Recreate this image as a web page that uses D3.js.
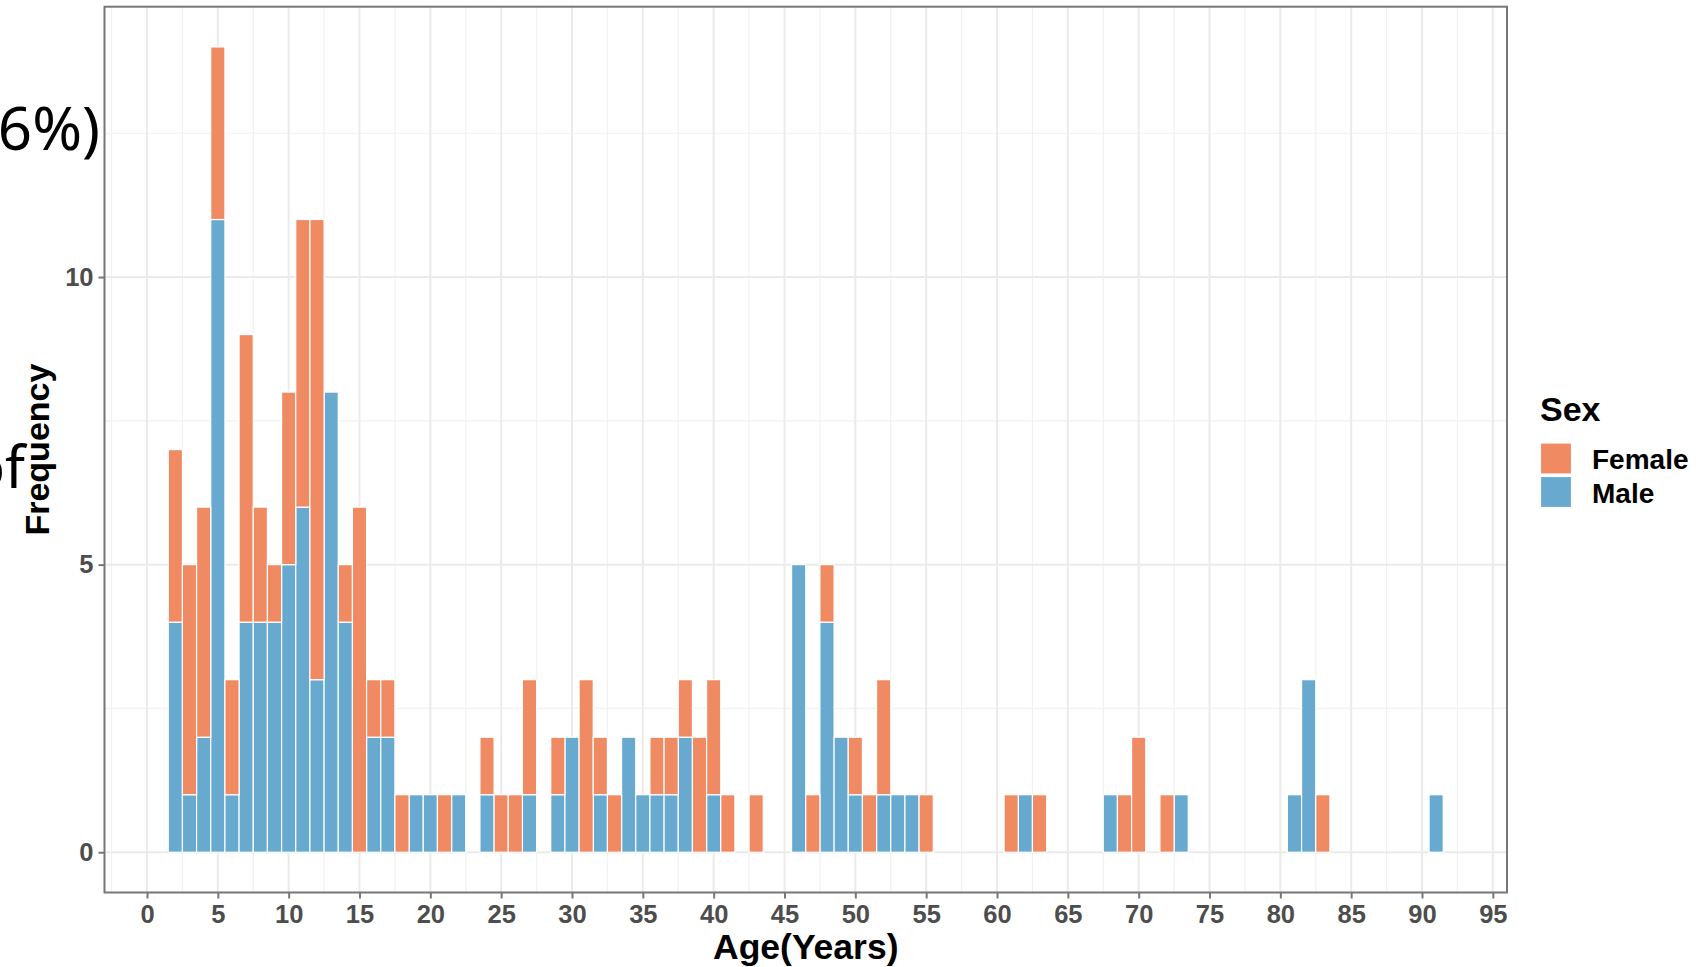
<!DOCTYPE html>
<html>
<head>
<meta charset="utf-8">
<script src="https://cdn.jsdelivr.net/npm/d3@7"></script>
<style>
  body { margin: 0; background: #fff; }
  svg { display: block; }
  .tick text { font-family: "Liberation Sans", Arial, sans-serif; font-weight: bold; fill: #4d4d4d; }
</style>
</head>
<body>
<svg id="chart" width="1700" height="967"></svg>
<script>
// ages with at least one case, and counts by sex
const ages   = [2,3,4,5,6,7,8,9,10,11,12,13,14,15,16,17,18,19,20,21,22,24,25,26,27,29,30,31,32,33,34,35,36,37,38,39,40,41,43,46,47,48,49,50,51,52,53,54,55,61,62,63,68,69,70,72,73,81,82,83,91];
const female = [3,4,4,3,2,5,2,1,3,5,8,0,1,6,1,1,1,0,0,1,0,1,1,1,2,1,0,3,1,1,0,0,1,1,1,2,2,1,1,0,1,1,0,1,1,2,0,0,1,1,0,1,0,1,2,1,0,0,0,1,0];
const male   = [4,1,2,11,1,4,4,4,5,6,3,8,4,0,2,2,0,1,1,0,1,1,0,0,1,1,2,0,1,0,2,1,1,1,2,0,1,0,0,5,0,4,2,1,0,1,1,1,0,0,1,0,1,0,0,0,1,1,3,0,1];

const sexes = ['Female', 'Male'];
const colors = ['#ef8a62', '#67a9cf'];
const xTicks = d3.range(0, 100, 5);
const yTicks = [0, 5, 10];

const svg = d3.select('#chart');

const panel = {left: 104.5, right: 1507, top: 6.7, bottom: 892.5};

const x = d3.scaleLinear().domain([-3, 96]).range([panel.left, panel.right]);
const y = d3.scaleLinear().domain([-0.7, 14.7]).range([panel.bottom, panel.top]);
const color = d3.scaleOrdinal().domain(sexes).range(colors);

const rows = ages.map((a, i) => ({age: a, Female: female[i], Male: male[i]}));
// male at the bottom, female stacked on top
const stacked = d3.stack().keys(['Male', 'Female'])(rows);

// grid lines
const grid = svg.append('g');
const xMinor = d3.range(-2.5, 96, 5);
const yMinor = [2.5, 7.5, 12.5];

grid.selectAll('.xminor').data(xMinor).enter().append('line')
  .attr('x1', d => x(d)).attr('x2', d => x(d))
  .attr('y1', panel.top).attr('y2', panel.bottom)
  .attr('stroke', '#f1f1f1').attr('stroke-width', 1.2);
grid.selectAll('.yminor').data(yMinor).enter().append('line')
  .attr('x1', panel.left).attr('x2', panel.right)
  .attr('y1', d => y(d)).attr('y2', d => y(d))
  .attr('stroke', '#f1f1f1').attr('stroke-width', 1.2);
grid.selectAll('.xmajor').data(xTicks).enter().append('line')
  .attr('x1', d => x(d)).attr('x2', d => x(d))
  .attr('y1', panel.top).attr('y2', panel.bottom)
  .attr('stroke', '#ebebeb').attr('stroke-width', 2);
grid.selectAll('.ymajor').data(yTicks).enter().append('line')
  .attr('x1', panel.left).attr('x2', panel.right)
  .attr('y1', d => y(d)).attr('y2', d => y(d))
  .attr('stroke', '#ebebeb').attr('stroke-width', 2);

// bars
const barW = x(1) - x(0);
svg.append('g').selectAll('g')
  .data(stacked)
  .enter().append('g')
  .attr('fill', d => color(d.key))
  .selectAll('rect')
  .data(d => d.filter(s => s[1] > s[0]))
  .enter().append('rect')
  .attr('x', d => x(d.data.age) - barW / 2)
  .attr('width', barW)
  .attr('y', d => y(d[1]))
  .attr('height', d => y(d[0]) - y(d[1]))
  .attr('stroke', 'white')
  .attr('stroke-width', 1.2);

// panel border
svg.append('rect')
  .attr('x', panel.left).attr('y', panel.top)
  .attr('width', panel.right - panel.left)
  .attr('height', panel.bottom - panel.top)
  .attr('fill', 'none')
  .attr('stroke', '#777')
  .attr('stroke-width', 2);

// axes
const xAxis = svg.append('g')
  .attr('transform', `translate(0, ${panel.bottom})`)
  .call(d3.axisBottom(x).tickValues(xTicks).tickSize(6).tickPadding(6));
const yAxis = svg.append('g')
  .attr('transform', `translate(${panel.left}, 0)`)
  .call(d3.axisLeft(y).tickValues(yTicks).tickSize(6).tickPadding(5));

[xAxis, yAxis].forEach(ax => {
  ax.select('.domain').remove();
  ax.selectAll('.tick line').attr('stroke', '#777').attr('stroke-width', 2);
  ax.selectAll('.tick text').style('font-size', '25.5px');
});
xAxis.selectAll('.tick text').attr('dy', '0.71em').attr('y', 12);

// axis titles
svg.append('text')
  .attr('x', (panel.left + panel.right) / 2)
  .attr('y', 959)
  .attr('text-anchor', 'middle')
  .style('font-family', '"Liberation Sans", Arial, sans-serif')
  .style('font-weight', 'bold')
  .style('font-size', '35.5px')
  .text('Age(Years)');

svg.append('text')
  .attr('transform', `translate(49, ${(panel.top + panel.bottom) / 2}) rotate(-90)`)
  .attr('text-anchor', 'middle')
  .style('font-family', '"Liberation Sans", Arial, sans-serif')
  .style('font-weight', 'bold')
  .style('font-size', '34px')
  .text('Frequency');

// legend
const legend = svg.append('g').attr('transform', 'translate(1540, 0)');
legend.append('text')
  .attr('x', 0).attr('y', 421)
  .style('font-family', '"Liberation Sans", Arial, sans-serif')
  .style('font-weight', 'bold')
  .style('font-size', '34px')
  .text('Sex');

const items = legend.selectAll('.item')
  .data(sexes)
  .enter().append('g')
  .attr('transform', (d, i) => `translate(0, ${443 + i * 33.5})`);
items.append('rect')
  .attr('x', 0.5).attr('y', 0)
  .attr('width', 31).attr('height', 31)
  .attr('fill', d => color(d))
  .attr('stroke', 'white').attr('stroke-width', 1.2);
items.append('text')
  .attr('x', 52).attr('y', 26)
  .style('font-family', '"Liberation Sans", Arial, sans-serif')
  .style('font-weight', 'bold')
  .style('font-size', '28px')
  .text(d => d);

// clipped slide text that overlaps the left edge
svg.append('text')
  .attr('x', 100).attr('y', 150)
  .attr('text-anchor', 'end')
  .style('font-family', '"Noto Sans", "Open Sans", sans-serif')
  .style('font-size', '60px')
  .text('56%)');
svg.append('text')
  .attr('x', 25).attr('y', 488)
  .attr('text-anchor', 'end')
  .style('font-family', '"Noto Sans", "Open Sans", sans-serif')
  .style('font-size', '58px')
  .text('of');
</script>
</body>
</html>
